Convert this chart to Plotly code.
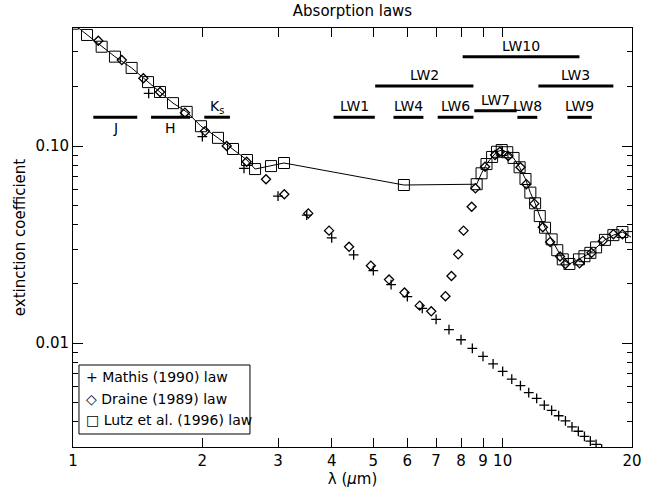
import numpy as np
import plotly.graph_objects as go

# ---------------- data ----------------
mathis_wl = [1.5, 2.0, 2.5, 3.0, 3.5, 4.0, 4.5, 5.0, 5.5, 6.0, 6.5, 7.0, 7.5, 8.0,
             8.5, 9.0, 9.5, 10.0, 10.5, 11.0, 11.5, 12.0, 12.5, 13.0, 13.5, 14.0,
             14.5, 15.0, 15.5, 16.0, 16.5, 17.0, 17.5]
mathis_val = [0.185, 0.1115, 0.077, 0.0557, 0.0446, 0.0342, 0.028, 0.0233, 0.0198,
              0.0172, 0.0150, 0.0132, 0.0117, 0.0104, 0.0094, 0.00857, 0.00785,
              0.00718, 0.00656, 0.00608, 0.0056, 0.00524, 0.00484, 0.00456,
              0.00428, 0.00403, 0.00376, 0.00357, 0.00336, 0.00318, 0.00306,
              0.0029, 0.00278]

draine_wl = [1.145, 1.299, 1.458, 1.594, 1.822, 2.029, 2.279, 2.536, 2.813, 3.103,
             3.529, 3.944, 4.39, 4.934, 5.44, 5.91, 6.41, 6.82, 7.36, 7.60, 7.88,
             8.11, 8.47, 8.64, 9.1, 9.6, 9.85, 10.3, 11.0, 11.35, 11.85, 12.4,
             12.9, 13.6, 14.0, 15.1, 16.1, 17.1, 18.1, 19.0]
draine_val = [0.342, 0.273, 0.2207, 0.188, 0.1476, 0.119, 0.100, 0.0832, 0.0678,
              0.0569, 0.0455, 0.0372, 0.0308, 0.0247, 0.0210, 0.01804, 0.01549,
              0.0145, 0.0173, 0.0219, 0.0282, 0.0372, 0.0492, 0.061, 0.0785,
              0.090, 0.0935, 0.089, 0.078, 0.064, 0.051, 0.0387, 0.0326, 0.0275,
              0.0252, 0.0254, 0.0287, 0.033, 0.0357, 0.0357]

lutz_wl = [1.0, 1.078, 1.166, 1.252, 1.369, 1.495, 1.594, 1.709, 1.839, 1.986,
           2.175, 2.357, 2.541, 2.653, 2.890, 3.098, 5.89,
           8.70, 8.93, 9.17, 9.45, 9.70, 9.95, 10.25, 10.6, 10.95, 11.3, 11.6,
           11.9, 12.2, 12.55, 13.0, 13.4, 13.8, 14.3, 15.05, 15.5, 16.0, 16.5,
           17.3, 18.1, 19.0, 19.9]
lutz_val = [0.4175, 0.366, 0.319, 0.284, 0.249, 0.211, 0.188, 0.165, 0.149, 0.126,
            0.110, 0.0966, 0.0849, 0.0764, 0.0791, 0.082, 0.0634,
            0.064, 0.0727, 0.081, 0.088, 0.0935, 0.0954, 0.093, 0.087, 0.078,
            0.068, 0.058, 0.0512, 0.0441, 0.0385, 0.0336, 0.0296, 0.0266,
            0.0252, 0.0266, 0.0276, 0.0287, 0.0306, 0.0334, 0.0353, 0.0366, 0.0345]

series_names = ["Mathis (1990) law", "Draine (1989) law", "Lutz et al. (1996) law"]
legend_glyphs = ["+", "◇", "□"]

# filter bands (micron)
band_names = ["J", "H", "K<sub>s</sub>", "LW1", "LW2", "LW3", "LW4", "LW6",
              "LW7", "LW8", "LW9", "LW10"]
band_lo = [1.115, 1.519, 2.021, 4.04, 5.05, 12.11, 5.57, 7.06, 8.59, 10.82, 14.15, 8.07]
band_hi = [1.411, 1.872, 2.319, 5.04, 8.55, 18.1, 6.54, 8.55, 10.78, 12.04, 16.12, 15.09]
# drawing levels of the band bars and their labels (plot placement)
band_level = [0.140, 0.140, 0.140, 0.1398, 0.2016, 0.2016, 0.1398, 0.1398, 0.151,
              0.1398, 0.1398, 0.284]
label_level = [0.1235, 0.1235, 0.158, 0.159, 0.230, 0.230, 0.159, 0.159, 0.171,
               0.159, 0.159, 0.320]

x_ticks = [1, 2, 3, 4, 5, 6, 7, 8, 9, 10, 20]
x_ticklabels = ["1", "2", "3", "4", "5", "6", "7", "8", "9", "10", "20"]
y_ticks = [0.01, 0.1]
y_ticklabels = ["0.01", "0.10"]
y_minor = [0.003, 0.004, 0.005, 0.006, 0.007, 0.008, 0.009,
           0.02, 0.03, 0.04, 0.05, 0.06, 0.07, 0.08, 0.09, 0.2, 0.3]

# ---------------- figure ----------------
FONT = "DejaVu Sans, Verdana, sans-serif"
fig = go.Figure()

# band bars
for lo, hi, lv in zip(band_lo, band_hi, band_level):
    fig.add_trace(go.Scatter(x=[lo, hi], y=[lv, lv], mode="lines",
                             line=dict(color="black", width=3),
                             showlegend=False, hoverinfo="skip"))

# Lutz connecting line
fig.add_trace(go.Scatter(x=lutz_wl, y=lutz_val, mode="lines",
                         line=dict(color="black", width=1),
                         showlegend=False, hoverinfo="skip"))

fig.add_trace(go.Scatter(x=mathis_wl, y=mathis_val, mode="markers",
                         name=series_names[0], showlegend=False,
                         marker=dict(symbol="cross-thin-open", size=7,
                                     color="black", line=dict(color="black", width=1.3))))
fig.add_trace(go.Scatter(x=draine_wl, y=draine_val, mode="markers",
                         name=series_names[1], showlegend=False,
                         marker=dict(symbol="diamond-open", size=7,
                                     color="black", line=dict(color="black", width=1.3))))
fig.add_trace(go.Scatter(x=lutz_wl, y=lutz_val, mode="markers",
                         name=series_names[2], showlegend=False,
                         marker=dict(symbol="square-open", size=11,
                                     color="black", line=dict(color="black", width=1))))

for name, lo, hi, ly in zip(band_names, band_lo, band_hi, label_level):
    xc = (np.log10(lo) + np.log10(hi)) / 2
    fig.add_annotation(x=xc, y=np.log10(ly), xref="x", yref="y", text=name,
                       showarrow=False, font=dict(family=FONT, size=14, color="black"),
                       xanchor="center", yanchor="middle")

# legend box (drawn as text, like the original)
fig.add_shape(type="rect", xref="paper", yref="paper", x0=0.0107, x1=0.3166,
              y0=0.031, y1=0.1957, line=dict(color="black", width=1),
              fillcolor="white", layer="above")
for i, (g, nm) in enumerate(zip(legend_glyphs, series_names)):
    fig.add_annotation(x=0.0197, y=0.167 - i * 0.0513, xref="paper", yref="paper",
                       text=f"{g} {nm}", showarrow=False, xanchor="left",
                       yanchor="middle", font=dict(family=FONT, size=14, color="black"))

axis_common = dict(showline=True, linecolor="black", linewidth=1, mirror="allticks",
                   ticks="inside", tickcolor="black", showgrid=False, zeroline=False,
                   automargin=False,
                   tickfont=dict(family=FONT, size=15, color="black"))

fig.update_xaxes(type="log", range=[0, np.log10(20)], tickvals=x_ticks,
                 ticktext=x_ticklabels, ticklen=9,
                 title=dict(text="λ (<i>μ</i>m)", font=dict(family=FONT, size=15, color="black"),
                            standoff=2),
                 **axis_common)
fig.update_yaxes(type="log", range=[np.log10(0.00297), np.log10(0.397)],
                 tickvals=y_ticks, ticktext=y_ticklabels, ticklen=10,
                 minor=dict(tickvals=y_minor, ticklen=5, ticks="inside", tickcolor="black",
                            showgrid=False),
                 title=dict(text="extinction coefficient",
                            font=dict(family=FONT, size=15, color="black"), standoff=6),
                 **axis_common)

fig.update_layout(
    width=662, height=497,
    margin=dict(l=73, r=30, t=28, b=50),
    paper_bgcolor="white", plot_bgcolor="white",
    title=dict(text="Absorption laws", x=0.5, xref="paper", y=1 - 11 / 497,
               yanchor="middle", font=dict(family=FONT, size=15, color="black")),
    showlegend=False,
)

fig.write_html("out.html", config={"displayModeBar": False},
               post_script="document.body.style.margin='0';document.body.style.overflow='hidden';")
